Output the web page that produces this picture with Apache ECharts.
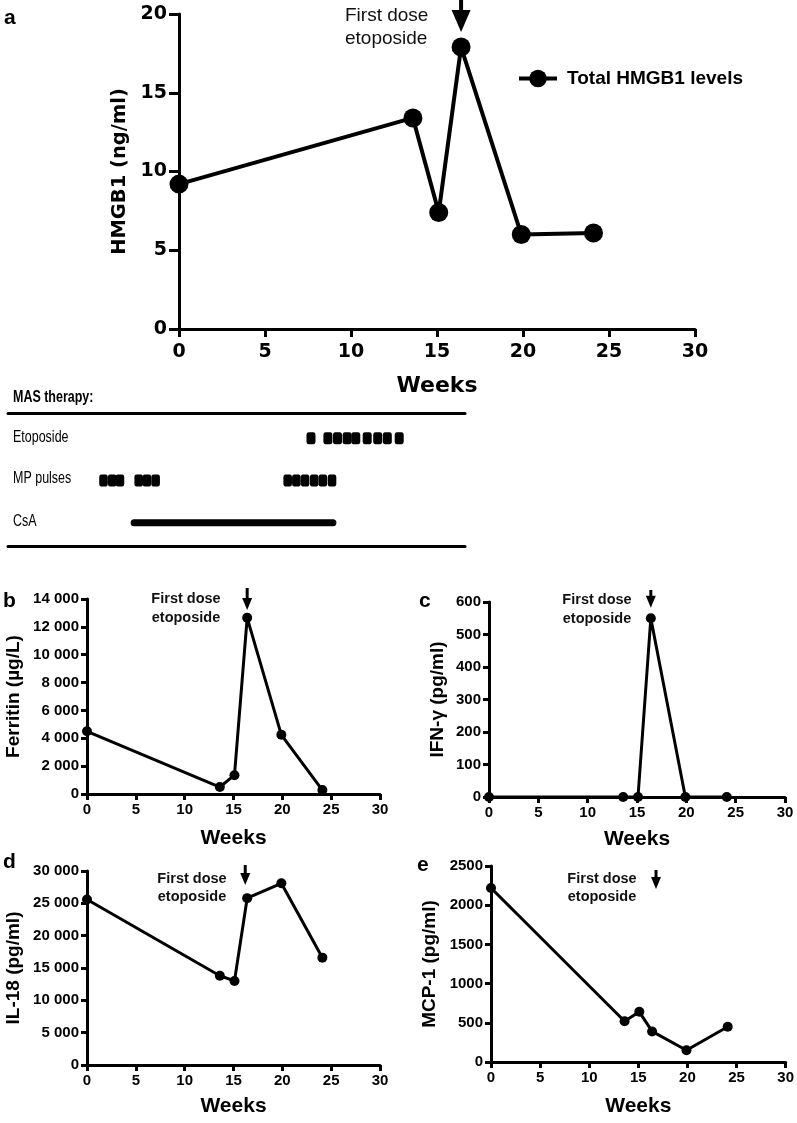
<!DOCTYPE html>
<html><head><meta charset="utf-8">
<script src="https://cdn.jsdelivr.net/npm/echarts@6/dist/echarts.min.js"></script>
<style>html,body{margin:0;padding:0;background:#fff}#c{width:797px;height:1123px}</style>
</head><body><div id="c"></div>
<script>
// ---- data ----
const weeks = [0, 13.6, 15.1, 16.4, 19.9, 24.1];
const hmgb1 = [9.2, 13.4, 7.4, 17.9, 6.0, 6.1];
const ferritin = [4500, 500, 1350, 12650, 4250, 280];
const ifnGamma = [0, 0, 0, 550, 0, 0];
const il18 = [25600, 13800, 13000, 25800, 28100, 16600];
const mcp1 = [2220, 520, 640, 390, 150, 450];
const xTicks = [0, 5, 10, 15, 20, 25, 30];
// first-dose etoposide arrow: [week, shaft top value, tip value] per panel
const arrowA = [16.4, 20.9, 18.85];
const arrowB = [16.4, 14790, 13210];
const arrowC = [16.4, 637, 582];
const arrowD = [16.2, 30930, 27830];
const arrowE = [16.8, 2449, 2207];
// therapy timeline (relative position on the timeline, 0-100)
const therapyRows = ['Etoposide', 'MP pulses', 'CsA'];
const etoposideDoses = [66.3, 70.0, 72.1, 74.2, 76.1, 78.6, 80.9, 83.0, 85.6];
const mpPulses = [20.9, 22.8, 24.5, 28.6, 30.4, 32.3, 61.2, 63.1, 65.0, 67.0, 68.9, 70.9];
const csaPeriod = [27.6, 71.1];

const F = 'Liberation Sans, Arial, sans-serif';
const FD = 'DejaVu Sans, sans-serif';
const sp = v => String(v).replace(/\B(?=(\d{3})+(?!\d))/g, ' ');
const plain = v => String(v);
const pair = (xs, ys) => xs.map((x, i) => [x, ys[i]]);

function valX(grid, o) {
  return Object.assign({
    type: 'value', gridIndex: grid, min: 0, max: 30, interval: 5,
    axisLine: {show: true, onZero: false, lineStyle: {color: '#000', width: 3}},
    axisTick: {show: true, length: 6, lineStyle: {color: '#000', width: 3}},
    axisLabel: {color: '#000', fontFamily: F, fontWeight: 'bold', fontSize: 15, margin: 8},
    splitLine: {show: false},
    name: 'Weeks', nameLocation: 'middle',
    nameTextStyle: {color: '#000', fontFamily: F, fontWeight: 'bold', fontSize: 21}
  }, o);
}
function valY(grid, o) {
  return Object.assign({
    type: 'value', gridIndex: grid,
    axisLine: {show: true, onZero: false, lineStyle: {color: '#000', width: 3}},
    axisTick: {show: true, length: 6, lineStyle: {color: '#000', width: 3}},
    axisLabel: {color: '#000', fontFamily: F, fontWeight: 'bold', fontSize: 15, margin: 8, formatter: plain},
    splitLine: {show: false},
    nameLocation: 'middle', nameRotate: 90,
    nameTextStyle: {color: '#000', fontFamily: F, fontWeight: 'bold', fontSize: 19}
  }, o);
}
function arrowSeries(xi, yi, a, w, hw, hh) {
  return {
    type: 'custom', xAxisIndex: xi, yAxisIndex: yi, clip: false, silent: true,
    encode: {x: 0, y: [1, 2]},
    data: [a],
    renderItem: function (params, api) {
      const top = api.coord([api.value(0), api.value(1)]);
      const tip = api.coord([api.value(0), api.value(2)]);
      return {type: 'group', children: [
        {type: 'line', shape: {x1: top[0], y1: top[1], x2: tip[0], y2: tip[1] - hh + 1},
          style: {stroke: '#000', lineWidth: w}},
        {type: 'polygon', shape: {points: [[tip[0] - hw / 2, tip[1] - hh], [tip[0] + hw / 2, tip[1] - hh], [tip[0], tip[1]]]},
          style: {fill: '#000'}}
      ]};
    }
  };
}
function lineSeries(name, xi, yi, ys, big) {
  return {
    name: name, type: 'line', xAxisIndex: xi, yAxisIndex: yi, data: pair(weeks, ys),
    symbol: 'circle', symbolSize: big ? 19 : 10, clip: false,
    lineStyle: {color: '#000', width: big ? 4 : 3}, itemStyle: {color: '#000'}
  };
}
function annot(x, y, fs, lh, weight, align) {
  return {type: 'text', x: x, y: y, style: {text: 'First dose\netoposide', font: weight + ' ' + fs + 'px ' + F,
    fill: '#111', lineHeight: lh, textAlign: align || 'center'}};
}
function letter(t, x, y) {
  return {type: 'text', x: x, y: y, style: {text: t, font: 'bold 21px ' + F, fill: '#000', textVerticalAlign: 'middle'}};
}
function narrow(t, x, y, bold) {
  return {type: 'text', x: x, y: y, scaleX: 0.78,
    style: {text: t, font: (bold ? 'bold ' : '') + '16px ' + F, fill: '#000', textVerticalAlign: 'middle'}};
}

const option = {
  animation: false,
  backgroundColor: '#fff',
  grid: [
    {left: 179, top: 14, width: 516, height: 315},
    {left: 8, top: 417, width: 457, height: 127},
    {left: 87, top: 599, width: 293, height: 195},
    {left: 489, top: 602, width: 296, height: 195},
    {left: 87, top: 871, width: 293, height: 194},
    {left: 491, top: 866, width: 296, height: 196}
  ],
  legend: {
    left: 512, top: 64, itemWidth: 38, itemHeight: 22, data: ['Total HMGB1 levels'],
    lineStyle: {width: 4}, selectedMode: false,
    textStyle: {color: '#000', fontFamily: F, fontWeight: 'bold', fontSize: 19, padding: [0, 0, 0, 5]}
  },
  xAxis: [
    valX(0, {axisTick: {show: true, length: 8, lineStyle: {color: '#000', width: 3}},
      axisLabel: {color: '#000', fontFamily: FD, fontWeight: 'bold', fontSize: 19, margin: 14}, nameGap: 46,
      nameTextStyle: {color: '#000', fontFamily: FD, fontWeight: 'bold', fontSize: 22}}),
    {type: 'value', gridIndex: 1, position: 'top', min: 0, max: 100, offset: 4,
      axisLine: {show: true, onZero: false, lineStyle: {color: '#000', width: 3}},
      axisTick: {show: false}, axisLabel: {show: false}, splitLine: {show: false}},
    {type: 'value', gridIndex: 1, position: 'bottom', min: 0, max: 100, offset: 2,
      axisLine: {show: true, onZero: false, lineStyle: {color: '#000', width: 3}},
      axisTick: {show: false}, axisLabel: {show: false}, splitLine: {show: false}},
    valX(2, {nameGap: 34}),
    valX(3, {nameGap: 32}),
    valX(4, {nameGap: 31}),
    valX(5, {nameGap: 34})
  ],
  yAxis: [
    valY(0, {min: 0, max: 20, interval: 5, name: 'HMGB1 (ng/ml)', nameGap: 48,
      axisTick: {show: true, length: 10, lineStyle: {color: '#000', width: 3}},
      axisLabel: {color: '#000', fontFamily: FD, fontWeight: 'bold', fontSize: 19, margin: 12},
      nameTextStyle: {color: '#000', fontFamily: FD, fontWeight: 'bold', fontSize: 19.5}}),
    {type: 'category', gridIndex: 1, data: therapyRows, inverse: true,
      axisLine: {show: false}, axisTick: {show: false}, splitLine: {show: false},
      axisLabel: {show: false}},
    valY(2, {min: 0, max: 14000, interval: 2000, name: 'Ferritin (µg/L)', nameGap: 64,
      axisLabel: {color: '#000', fontFamily: F, fontWeight: 'bold', fontSize: 15, margin: 8, formatter: sp}}),
    valY(3, {min: 0, max: 600, interval: 100, name: 'IFN-γ (pg/ml)', nameGap: 42}),
    valY(4, {min: 0, max: 30000, interval: 5000, name: 'IL-18 (pg/ml)', nameGap: 64,
      axisLabel: {color: '#000', fontFamily: F, fontWeight: 'bold', fontSize: 15, margin: 8, formatter: sp}}),
    valY(5, {min: 0, max: 2500, interval: 500, name: 'MCP-1 (pg/ml)', nameGap: 52})
  ],
  series: [
    lineSeries('Total HMGB1 levels', 0, 0, hmgb1, true),
    arrowSeries(0, 0, arrowA, 4, 19, 22),
    {name: 'Etoposide', type: 'scatter', xAxisIndex: 2, yAxisIndex: 1, symbol: 'roundRect', symbolSize: [9, 12],
      itemStyle: {color: '#000', opacity: 1}, data: etoposideDoses.map(x => [x, 'Etoposide'])},
    {name: 'MP pulses', type: 'scatter', xAxisIndex: 2, yAxisIndex: 1, symbol: 'roundRect', symbolSize: [8.6, 12],
      itemStyle: {color: '#000', opacity: 1}, data: mpPulses.map(x => [x, 'MP pulses'])},
    {name: 'CsA', type: 'line', xAxisIndex: 2, yAxisIndex: 1, symbol: 'none',
      lineStyle: {color: '#000', width: 7, cap: 'round'}, data: csaPeriod.map(x => [x, 'CsA'])},
    lineSeries('Ferritin', 3, 2, ferritin, false),
    arrowSeries(3, 2, arrowB, 3, 10, 12),
    lineSeries('IFN-γ', 4, 3, ifnGamma, false),
    arrowSeries(4, 3, arrowC, 3, 10, 12),
    lineSeries('IL-18', 5, 4, il18, false),
    arrowSeries(5, 4, arrowD, 3, 10, 12),
    lineSeries('MCP-1', 6, 5, mcp1, false),
    arrowSeries(6, 5, arrowE, 3, 10, 12)
  ],
  graphic: [
    letter('a', 4, 18), letter('b', 3, 601), letter('c', 419, 601), letter('d', 3, 862), letter('e', 417, 865),
    annot(345, 4, 19, 23, 'normal', 'left'),
    annot(186, 589, 14.5, 19, 'bold'),
    annot(597, 590, 14.5, 19, 'bold'),
    annot(192, 870, 14.5, 18, 'bold'),
    annot(602, 870, 14.5, 18, 'bold'),
    narrow('MAS therapy:', 13, 398, true),
    narrow(therapyRows[0], 13, 438, false),
    narrow(therapyRows[1], 13, 479, false),
    narrow(therapyRows[2], 13, 522, false)
  ]
};
const chart = echarts.init(document.getElementById('c'), null, {renderer: 'canvas'});
chart.setOption(option);
</script></body></html>
